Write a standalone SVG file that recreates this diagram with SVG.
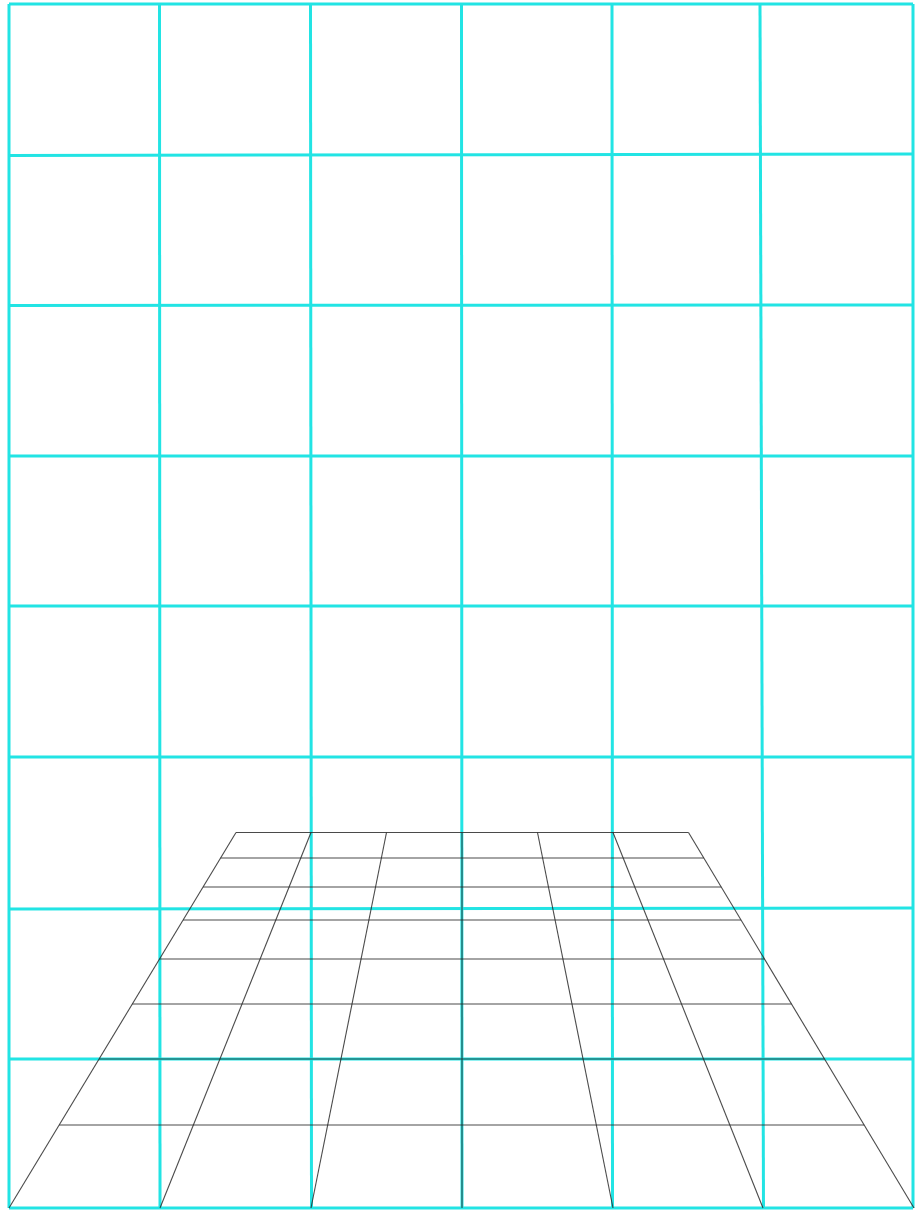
<svg xmlns="http://www.w3.org/2000/svg" width="918" height="1210" viewBox="0 0 918 1210">
<style>
.c{stroke:#22e4e4;stroke-width:3;fill:none}
.p{stroke:#2a2a2a;stroke-width:1.1;fill:none;stroke-opacity:0.85}
</style>
<rect width="918" height="1210" fill="#ffffff"/>
<g id="wall-grid">
<line class="c" x1="9" y1="4" x2="9" y2="1208"/>
<line class="c" x1="159.5" y1="4" x2="160" y2="1208"/>
<line class="c" x1="310.5" y1="4" x2="311.5" y2="1208"/>
<line class="c" x1="461.5" y1="4" x2="462" y2="1208"/>
<line class="c" x1="612" y1="4" x2="612.5" y2="1208"/>
<line class="c" x1="760" y1="4" x2="763.5" y2="1208"/>
<line class="c" x1="913" y1="4" x2="913" y2="1208"/>
<line class="c" x1="9" y1="4" x2="913" y2="4"/>
<line class="c" x1="9" y1="155.5" x2="913" y2="154"/>
<line class="c" x1="9" y1="305.5" x2="913" y2="305"/>
<line class="c" x1="9" y1="456" x2="913" y2="456"/>
<line class="c" x1="9" y1="606" x2="913" y2="606"/>
<line class="c" x1="9" y1="757" x2="913" y2="757"/>
<line class="c" x1="9" y1="909" x2="913" y2="908"/>
<line class="c" x1="9" y1="1059" x2="913" y2="1059"/>
<line class="c" x1="9" y1="1208" x2="913" y2="1208"/>
</g>
<g id="floor-grid">
<line class="p" x1="236" y1="832.5" x2="9" y2="1208"/>
<line class="p" x1="311" y1="832.5" x2="160" y2="1208"/>
<line class="p" x1="386.5" y1="832.5" x2="311" y2="1208"/>
<line class="p" x1="462" y1="832.5" x2="462" y2="1208"/>
<line class="p" x1="537.5" y1="832.5" x2="613" y2="1208"/>
<line class="p" x1="613" y1="832.5" x2="763" y2="1208"/>
<line class="p" x1="688.5" y1="832.5" x2="914" y2="1208"/>
<line class="p" x1="236" y1="832.5" x2="688.5" y2="832.5"/>
<line class="p" x1="220.6" y1="858" x2="703.8" y2="858"/>
<line class="p" x1="203.1" y1="887" x2="721.2" y2="887"/>
<line class="p" x1="183.1" y1="920" x2="741" y2="920"/>
<line class="p" x1="159.5" y1="959" x2="764.5" y2="959"/>
<line class="p" x1="132.3" y1="1004" x2="791.5" y2="1004"/>
<line class="p" x1="99.1" y1="1059" x2="824.5" y2="1059"/>
<line class="p" x1="59.2" y1="1125" x2="864.2" y2="1125"/>
</g>
</svg>
